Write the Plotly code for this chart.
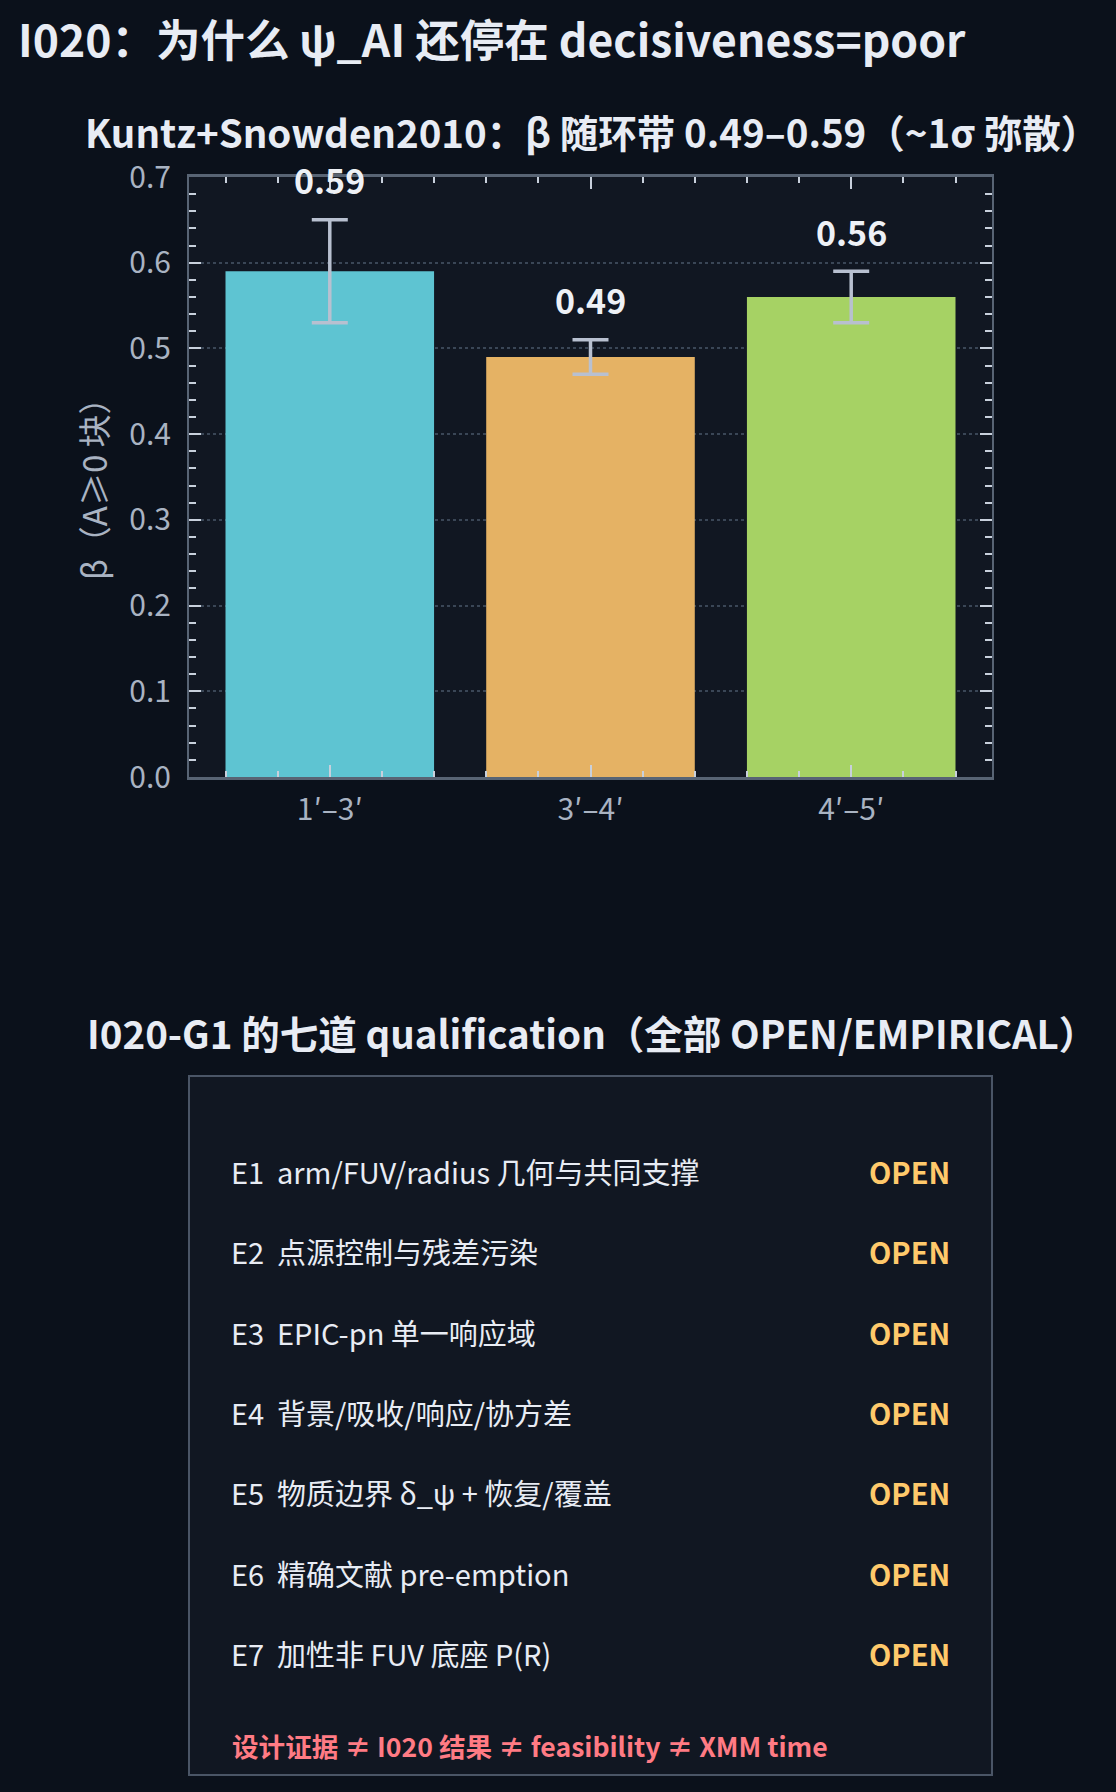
import plotly.graph_objects as go

W, H = 1116, 1792

# data
bands = ["1′–3′", "3′–4′", "4′–5′"]
beta = [0.59, 0.49, 0.56]
beta_err = [0.06, 0.02, 0.03]
bar_colors = ["#5ec4d2", "#e5b264", "#a6d264"]

row_ids = ["E1", "E2", "E3", "E4", "E5", "E6", "E7"]
row_texts = [
    "arm/FUV/radius 几何与共同支撑",
    "点源控制与残差污染",
    "EPIC-pn 单一响应域",
    "背景/吸收/响应/协方差",
    "物质边界 δ_ψ + 恢复/覆盖",
    "精确文献 pre-emption",
    "加性非 FUV 底座 P(R)",
]
row_status = ["OPEN"] * 7

FONT = "Noto Sans CJK SC"
BG = "#0b111b"
PANEL = "#111722"
TXT = "#e8ecf4"
TICK = "#a9b3c2"
AXIS = "#586474"


def px(x):
    return x / W


def py(y):
    return 1 - y / H


fig = go.Figure()

fig.add_trace(go.Bar(
    x=list(range(len(bands))),
    y=beta,
    marker=dict(color=bar_colors, line=dict(width=0)),
    error_y=dict(type="data", array=beta_err, color="#b8c0d0", thickness=3.5, width=18),
    showlegend=False,
    hoverinfo="skip",
))

# value labels above the error bars
for i, (v, e) in enumerate(zip(beta, beta_err)):
    fig.add_annotation(x=i, y=v + e, xref="x", yref="y", text=f"<b>{v:.2f}</b>",
                       showarrow=False, yanchor="middle", yshift=40,
                       font=dict(family=FONT, size=34, color="#eef1f6"))

ann = [
    dict(x=px(16), y=py(38), xanchor="left", yanchor="middle",
         text="<b>I020：为什么 ψ_AI 还停在 decisiveness=poor</b>",
         font=dict(size=44.5, color=TXT)),
    dict(x=px(83), y=py(131), xanchor="left", yanchor="middle",
         text="<b>Kuntz+Snowden2010：β 随环带 0.49–0.59（~1σ 弥散）</b>",
         font=dict(size=38.5, color=TXT)),
    dict(x=px(93), y=py(481), xanchor="center", yanchor="middle", textangle=-90,
         text="β（A≥0 块）", font=dict(size=33, color=TICK)),
    dict(x=px(85), y=py(1032), xanchor="left", yanchor="middle",
         text="<b>I020-G1 的七道 qualification（全部 OPEN/EMPIRICAL）</b>",
         font=dict(size=38.5, color=TXT)),
    dict(x=px(230), y=py(1745), xanchor="left", yanchor="middle",
         text="<b>设计证据 ≠ I020 结果 ≠ feasibility ≠ XMM time</b>",
         font=dict(size=26.6, color="#ff7b84")),
]
for i, (rid, rt, st) in enumerate(zip(row_ids, row_texts, row_status)):
    yy = py(1171 + 80.3 * i)
    ann.append(dict(x=px(229), y=yy, xanchor="left", yanchor="middle", text=rid,
                    font=dict(size=29, color=TXT)))
    ann.append(dict(x=px(275), y=yy, xanchor="left", yanchor="middle", text=rt,
                    font=dict(size=29, color=TXT)))
    ann.append(dict(x=px(952), y=yy, xanchor="right", yanchor="middle", text=f"<b>{st}</b>",
                    font=dict(size=29, color="#ffc96b")))
for a in ann:
    a.update(xref="paper", yref="paper", showarrow=False)
    a["font"]["family"] = FONT
    fig.add_annotation(**a)

# qualification panel box
fig.add_shape(type="rect", xref="paper", yref="paper",
              x0=px(189), x1=px(992), y0=py(1775), y1=py(1076),
              fillcolor=PANEL, line=dict(color="#4a5566", width=2), layer="below")

fig.update_layout(
    width=W, height=H,
    margin=dict(l=0, r=0, t=0, b=0),
    paper_bgcolor=BG, plot_bgcolor=PANEL,
    font=dict(family=FONT, color=TICK),
    bargap=0.2,
    xaxis=dict(
        domain=[px(189), px(992)], range=[-0.54, 2.54],
        tickvals=list(range(len(bands))), ticktext=bands,
        ticks="inside", ticklen=12, tickwidth=2, tickcolor="#c8d0dc",
        minor=dict(dtick=0.2, tick0=0, ticks="inside", ticklen=6, tickwidth=2, tickcolor="#c8d0dc"),
        showline=True, linecolor=AXIS, linewidth=2.5, mirror="ticks",
        showgrid=False, zeroline=False, automargin=False,
        tickfont=dict(size=30, color=TICK), ticklabelstandoff=4,
    ),
    yaxis=dict(
        domain=[py(777), py(177)], range=[0, 0.7],
        tickmode="linear", tick0=0, dtick=0.1, tickformat=".1f",
        ticks="inside", ticklen=12, tickwidth=2, tickcolor="#c8d0dc",
        minor=dict(dtick=0.02, tick0=0, ticks="inside", ticklen=7, tickwidth=2, tickcolor="#c8d0dc"),
        showline=True, linecolor=AXIS, linewidth=2, mirror="ticks",
        showgrid=True, gridcolor="#3a4656", gridwidth=1.5, griddash="dot",
        zeroline=False, automargin=False,
        tickfont=dict(size=30, color=TICK), ticklabelstandoff=10,
    ),
)

# drop the default page margin so the figure sits at the window's corner
fig.write_html("out.html", config={"displayModeBar": False},
               post_script="document.body.style.margin='0';document.body.style.background='#0b111b';")
